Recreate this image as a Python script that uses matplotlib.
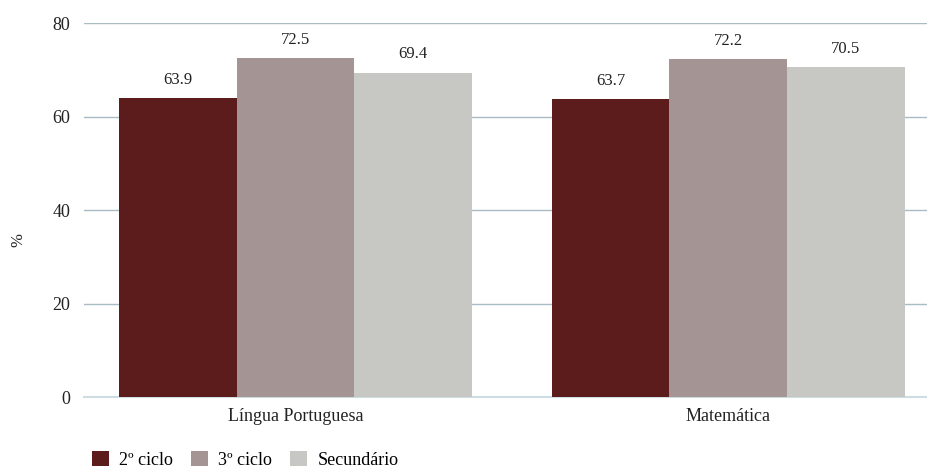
import matplotlib
matplotlib.use('Agg')
import matplotlib.pyplot as plt
from matplotlib.patches import Patch
import numpy as np

plt.rcParams['font.family'] = ['Liberation Serif', 'DejaVu Serif']

subjects = ['Língua Portuguesa', 'Matemática']
series = ['2º ciclo', '3º ciclo', 'Secundário']
values = {
    '2º ciclo': [63.9, 63.7],
    '3º ciclo': [72.5, 72.2],
    'Secundário': [69.4, 70.5],
}
colors = ['#5c1c1c', '#a59494', '#c7c7c3']
yticks = [0, 20, 40, 60, 80]

fig = plt.figure(figsize=(9.27, 4.73), dpi=100)
ax = fig.add_axes([84 / 927, 1 - 397 / 473, 1 - 84 / 927, (397 - 23) / 473])

x = np.arange(len(subjects))
w = 0.272
for i, (s, c) in enumerate(zip(series, colors)):
    pos = x + (i - 1) * w
    ax.bar(pos, values[s], width=w, color=c, zorder=3)
    for px, v in zip(pos, values[s]):
        ax.text(px, v + 2.2, f'{v:.1f}', ha='center', va='bottom',
                fontsize=12, color='#222222')

ax.set_xlim(-0.489, 1.46)
ax.set_ylim(0, 80)
ax.set_yticks(yticks)
ax.set_yticklabels([str(t) for t in yticks], fontsize=13, color='#222222')
ax.set_xticks(x)
ax.set_xticklabels(subjects, fontsize=13, color='#222222')
ax.tick_params(axis='y', length=0, pad=10)
ax.tick_params(axis='x', length=0, pad=8)
ax.grid(axis='y', color='#a9bcc4', lw=1, zorder=0)
for sp in ['top', 'right', 'left']:
    ax.spines[sp].set_visible(False)
ax.spines['bottom'].set_color('#cfdde3')
ax.spines['bottom'].set_linewidth(1.5)
ax.set_ylabel('%', fontsize=12, color='#222222')
ax.yaxis.set_label_coords(-0.068, 0.42)

handles = [Patch(facecolor=c, edgecolor='none') for c in colors]
fig.legend(handles, series, loc='lower left', bbox_to_anchor=(76 / 927, -0.026),
           ncol=3, frameon=False, fontsize=13, handlelength=0.9,
           handleheight=0.9, columnspacing=1.0, handletextpad=0.6)

fig.savefig('out.png', dpi=100)
